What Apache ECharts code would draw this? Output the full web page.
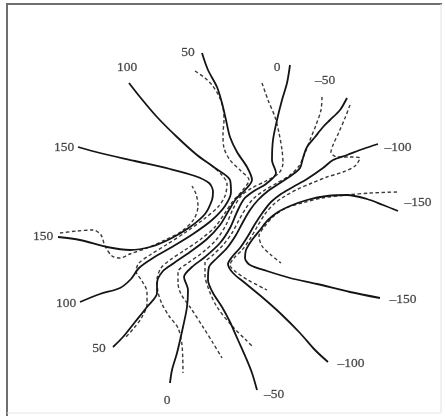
<!DOCTYPE html>
<html>
<head>
<meta charset="utf-8">
<script src="https://cdn.jsdelivr.net/npm/echarts@6/dist/echarts.min.js"></script>
<style>
  html, body { margin: 0; padding: 0; background: #ffffff; }
  #chart { width: 445px; height: 416px; }
</style>
</head>
<body>
<div id="chart"></div>
<script>
// Map extent (x to the right, y downwards)
const mapWidth = 445;
const mapHeight = 416;

// Measured contours (solid lines)
const measured150 = [[58,237],[80,240],[107,247],[130,250],[150,247],[170,239],[190,227],[205,214],[212,200],[213,192],[209,183],[195,176],[170,169],[135,161],[100,153],[78,147]];
const measured100 = [[129,83],[140,97],[157,117],[177,137],[197,155],[215,168],[230,180],[231,192],[225,206],[212,220],[193,234],[172,247],[153,258],[139,268],[131,279],[120,288],[100,294],[80,302]];
const measured50 = [[202,53],[208,70],[217,87],[222,103],[226,120],[230,137],[237,152],[247,167],[252,180],[245,190],[236,199],[229,210],[220,225],[207,239],[190,252],[174,263],[163,271],[157,283],[157,293],[147,307],[135,322],[123,337],[113,347]];
const measured0 = [[290,65],[287,83],[282,100],[277,120],[273,140],[272,160],[276,173],[266,184],[254,191],[244,199],[237,212],[230,228],[220,243],[205,257],[192,267],[184,277],[188,290],[187,307],[183,327],[177,353],[172,370],[170,383]];
const measuredM50 = [[347,98],[340,110],[330,120],[323,127],[315,137],[307,147],[303,158],[300,168],[292,175],[280,183],[268,191],[258,200],[250,210],[243,222],[236,235],[227,248],[217,258],[209,267],[208,280],[213,293],[222,307],[230,322],[238,340],[246,358],[252,373],[257,390]];
const measuredM100 = [[378,144],[363,149],[347,155],[333,160],[323,168],[307,179],[293,187],[281,194],[271,202],[263,212],[255,224],[248,236],[240,248],[232,257],[228,264],[233,273],[245,283],[262,297],[280,313],[300,333],[315,350],[328,362]];
const measuredM150 = [[398,211],[383,205],[367,199],[347,195],[327,196],[307,200],[290,206],[278,212],[268,220],[260,230],[252,240],[246,250],[245,258],[250,265],[267,271],[290,278],[317,284],[350,292],[380,298]];

// Computed contours (dashed lines)
const computed150 = [[60,233],[77,231],[93,230],[101,235],[105,246],[112,256],[120,258],[130,254],[147,248],[165,240],[182,231],[194,219],[198,206],[196,194],[192,186]];
const computed100 = [[211,165],[221,174],[227,184],[225,196],[218,207],[204,219],[186,232],[166,245],[150,255],[139,263],[136,271],[142,281],[147,292],[147,304],[142,317],[134,328],[125,338]];
const computed50 = [[195,71],[205,78],[212,85],[219,96],[223,108],[224,120],[223,134],[224,148],[230,160],[241,171],[249,180],[242,191],[233,201],[225,213],[215,227],[201,239],[185,250],[170,260],[161,268],[157,280],[158,292],[162,304],[169,316],[178,328],[182,345],[183,373]];
const computed0 = [[262,83],[268,100],[275,117],[279,133],[282,150],[283,163],[279,173],[266,181],[252,188],[241,196],[233,209],[226,225],[216,240],[202,253],[188,263],[178,272],[178,283],[181,294],[190,307],[203,327],[213,343],[222,358]];
const computedM50 = [[322,97],[321,110],[316,125],[310,140],[305,153],[299,166],[289,176],[277,183],[265,190],[254,198],[246,208],[239,220],[232,233],[223,245],[213,255],[205,263],[205,275],[209,290],[217,307],[233,327],[246,340],[253,347]];
const computedM100 = [[350,105],[345,118],[339,132],[333,145],[331,152],[337,157],[350,157],[360,158],[355,166],[343,172],[327,177],[312,183],[298,189],[285,196],[274,204],[265,214],[257,227],[250,239],[242,250],[234,258],[230,265],[236,272],[248,280],[267,290]];
const computedM150 = [[397,192],[370,193],[347,195],[322,198],[302,203],[286,208],[274,216],[265,226],[259,236],[262,246],[271,255],[281,263]];

// Contour value labels: [text, x, y]
const contourLabels = [
  ['150', 64, 147], ['150', 43, 236],
  ['100', 127, 67], ['100', 66, 303],
  ['50', 188, 52], ['50', 99, 348],
  ['0', 277, 67], ['0', 167, 400],
  ['\u201350', 325, 80], ['\u201350', 274, 394],
  ['\u2013100', 398, 147], ['\u2013100', 351, 363],
  ['\u2013150', 418, 202], ['\u2013150', 403, 299]
];

const measuredSet = [measured150, measured100, measured50, measured0, measuredM50, measuredM100, measuredM150];
const computedSet = [computed150, computed100, computed50, computed0, computedM50, computedM100, computedM150];

function contourSeries(points, dashed) {
  return {
    type: 'line',
    data: points,
    smooth: 0.3,
    symbol: 'none',
    silent: true,
    z: dashed ? 2 : 3,
    lineStyle: dashed
      ? { color: '#3a3a3a', width: 1.4, type: [3.5, 2.5] }
      : { color: '#141414', width: 1.8, type: 'solid' }
  };
}

const series = [];
computedSet.forEach(p => series.push(contourSeries(p, true)));
measuredSet.forEach(p => series.push(contourSeries(p, false)));
series.push({
  type: 'scatter',
  data: contourLabels.map(l => ({ value: [l[1], l[2]], name: l[0] })),
  symbolSize: 0,
  silent: true,
  z: 5,
  label: {
    show: true,
    position: 'inside',
    formatter: p => p.name,
    fontFamily: 'Liberation Serif',
    fontSize: 13.5,
    color: '#222222',
    textBorderColor: '#555555',
    textBorderWidth: 0.3
  }
});

const chart = echarts.init(document.getElementById('chart'), null, { renderer: 'canvas' });
chart.setOption({
  animation: false,
  backgroundColor: '#ffffff',
  grid: { left: 0, right: 0, top: 0, bottom: 0 },
  xAxis: { type: 'value', min: 0, max: mapWidth, show: false },
  yAxis: { type: 'value', min: 0, max: mapHeight, inverse: true, show: false },
  graphic: [
    { type: 'line', shape: { x1: 7, y1: 3, x2: 7, y2: 416 }, style: { stroke: '#6e6e6e', lineWidth: 2 } },
    { type: 'line', shape: { x1: 6, y1: 4, x2: 442, y2: 4 }, style: { stroke: '#6e6e6e', lineWidth: 2 } },
    { type: 'line', shape: { x1: 441, y1: 4, x2: 441, y2: 413 }, style: { stroke: '#e2e2e2', lineWidth: 1 } },
    { type: 'line', shape: { x1: 7, y1: 413, x2: 441, y2: 413 }, style: { stroke: '#e6e6e6', lineWidth: 1 } }
  ],
  series: series
});
</script>
</body>
</html>
